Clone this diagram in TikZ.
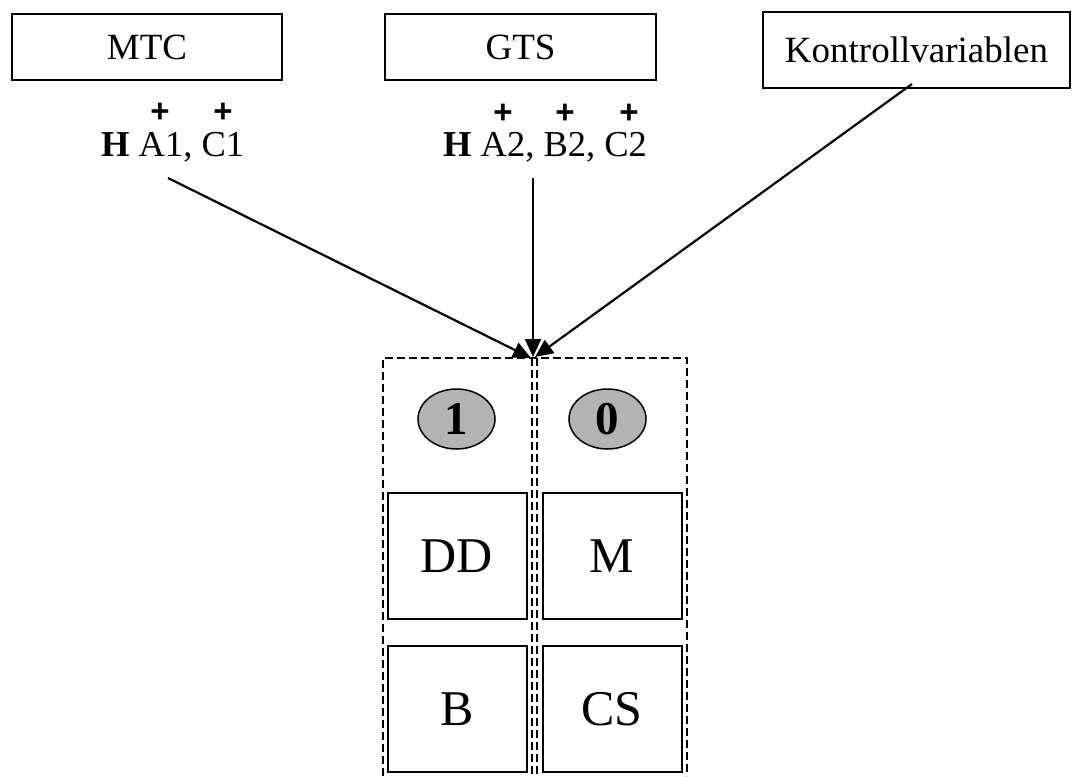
\documentclass[tikz,border=0pt]{standalone}
\usepackage{fontspec}
\setmainfont{Liberation Serif}
\newfontfamily\plusfont{Liberation Sans}
\usetikzlibrary{shapes.geometric,arrows.meta}
\definecolor{ovalgray}{HTML}{B3B3B3}
\begin{document}
\begin{tikzpicture}[x=1pt,y=-1pt,
  topbox/.style={draw, line width=1.5pt, inner sep=0pt, minimum height=66pt,
    font=\fontsize{37}{40}\selectfont},
  hlabel/.style={anchor=base west, inner sep=0pt, font=\fontsize{36.5}{40}\selectfont},
  plusmark/.style={inner sep=0pt, font=\plusfont\bfseries\fontsize{33}{33}\selectfont},
  frameline/.style={line width=2pt, dash pattern=on 8pt off 4pt},
  oval/.style={ellipse, draw, line width=1.5pt, fill=ovalgray, minimum width=77pt,
    minimum height=60pt, inner sep=0pt, font=\bfseries\fontsize{47}{47}\selectfont},
  cellbox/.style={draw, line width=2pt, minimum width=139pt, minimum height=126pt,
    inner sep=0pt, font=\fontsize{50}{52}\selectfont},
  feed/.style={line width=2.2pt, -{Triangle[length=18pt,width=16pt]}}]
\useasboundingbox (0,0) rectangle (1083,776);

% source boxes
\node[topbox, minimum width=270pt] (mtc) at (147,47) {MTC};
\node[topbox, minimum width=271pt] (gts) at (520.5,47) {GTS};
\node[topbox, minimum width=307pt, minimum height=76pt] (kv) at (916.5,50) {Kontrollvariablen};

% hypothesis labels with their plus marks
\node[hlabel] (h1) at (101,156) {\textbf{H} A1, C1};
\node[hlabel] (h2) at (443,156) {\textbf{H} A2, B2, C2};
\node[plusmark] (p1) at (160,113) {+};
\node[plusmark] (p2) at (223,113) {+};
\node[plusmark] (p3) at (503,114) {+};
\node[plusmark] (p4) at (565,114) {+};
\node[plusmark] (p5) at (629,114) {+};

% dashed two-column frame, open at the bottom
\draw[frameline] (383,776) -- (383,358) -- (687,358) -- (687,776);
\draw[frameline] (531.5,358) -- (531.5,776);
\draw[frameline] (536.5,358) -- (536.5,776);

% arrow ends on the frame top
\coordinate (t1) at (531,358);
\coordinate (t2) at (533,357);
\coordinate (t3) at (535,357);
\coordinate (s1) at (168,178);
\coordinate (s2) at (533,178);
\coordinate (s3) at (912,84);

\draw[feed] (s1) -- (t1);
\draw[feed] (s2) -- (t2);
\draw[feed] (s3) -- (t3);

% column contents
\node[oval] (one) at (456.5,419) {1};
\node[oval] (zero) at (607.5,419) {0};
\node[cellbox] (dd) at (457,556) {DD};
\node[cellbox] (m) at (612,556) {M};
\node[cellbox] (b) at (457,709) {B};
\node[cellbox] (cs) at (612,709) {CS};
\end{tikzpicture}
\end{document}
